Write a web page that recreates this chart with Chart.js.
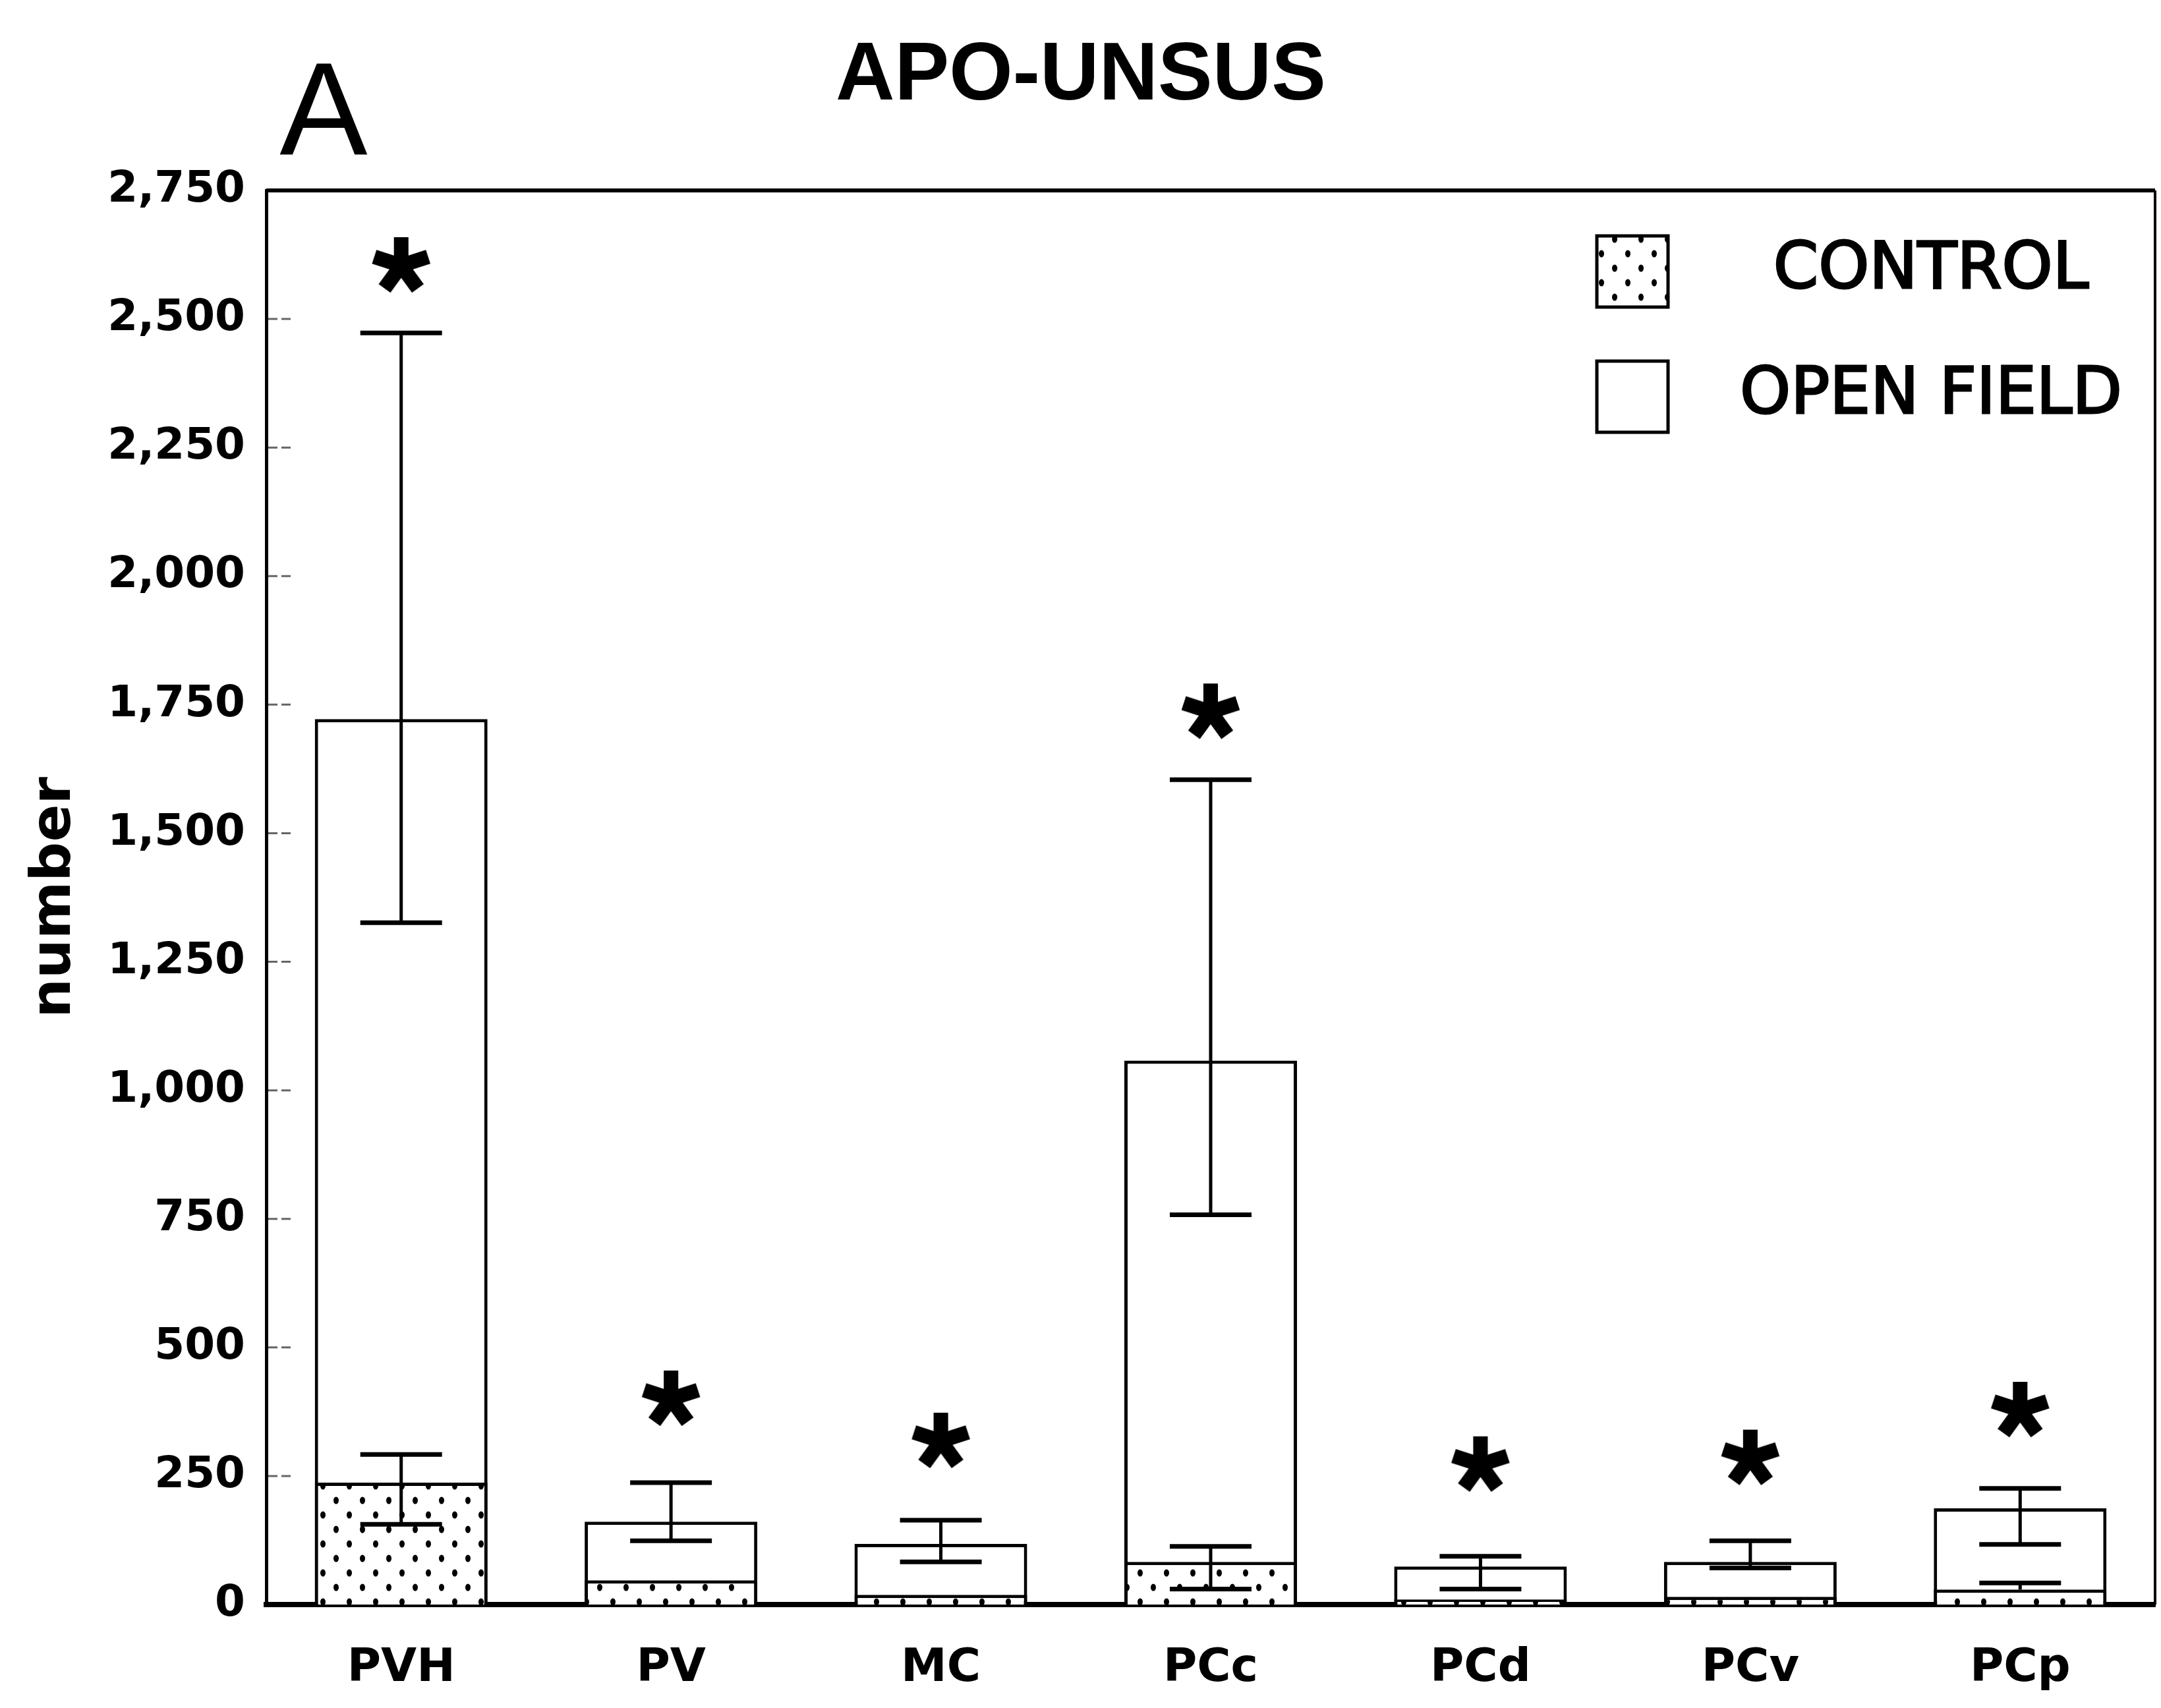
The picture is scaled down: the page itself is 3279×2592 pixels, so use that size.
<!DOCTYPE html>
<html>
<head>
<meta charset="utf-8">
<style>
  html, body { margin: 0; padding: 0; background: #fff; }
  #chart { display: block; }
</style>
<script src="https://cdn.jsdelivr.net/npm/chart.js@4.4.1/dist/chart.umd.min.js"></script>
</head>
<body>
<canvas id="chart" width="3279" height="2592"></canvas>
<script>
// Regions along the x axis
const regions = ['PVH', 'PV', 'MC', 'PCc', 'PCd', 'PCv', 'PCp'];

// Mean counts
const controlValues = [237, 47, 19, 83, 10, 15, 29];
const openFieldValues = [1722, 161, 118, 1058, 74, 83, 187];

// Error bar ends (null where no bar is visible)
const controlHigh = [292, null, null, 113, null, null, 42];
const controlLow = [156, null, null, 30, null, null, null];
const openHigh = [2473, 237, 164, 1604, 94, 124, 226];
const openLow = [1326, 124, 83, 758, 30, 71, 117];

// Height of the significance asterisks
const starLevels = [2604, 400, 318, 1736, 272, 285, 378];

// Y axis
const yMax = 2750;
const yStep = 250;

const canvas = document.getElementById('chart');
const ctx = canvas.getContext('2d');

// Dotted fill for the control bars
function makeDots() {
    const tile = document.createElement('canvas');
    tile.width = 40;
    tile.height = 44;
    const t = tile.getContext('2d');
    t.fillStyle = '#fff';
    t.fillRect(0, 0, 40, 44);
    t.fillStyle = '#000';
    [[10, 11], [30, 33]].forEach(([x, y]) => {
        t.beginPath();
        t.ellipse(x, y, 4, 5.5, 0, 0, Math.PI * 2);
        t.fill();
    });
    return ctx.createPattern(tile, 'repeat');
}

// Five armed asterisk used as point style
function makeStar(size) {
    const c = document.createElement('canvas');
    c.width = c.height = size;
    const s = c.getContext('2d');
    const r = size / 2 - 3;
    s.strokeStyle = '#000';
    s.lineWidth = size * 0.24;
    for (let k = 0; k < 5; k++) {
        const a = -Math.PI / 2 + k * 2 * Math.PI / 5;
        s.beginPath();
        s.moveTo(size / 2, size / 2);
        s.lineTo(size / 2 + r * Math.cos(a), size / 2 + r * Math.sin(a));
        s.stroke();
    }
    return c;
}

const dots = makeDots();

// Title and panel letter
const headerPlugin = {
    id: 'header',
    afterDraw(chart) {
        const c = chart.ctx;
        c.save();
        c.fillStyle = '#000';
        c.textAlign = 'center';
        c.textBaseline = 'alphabetic';
        c.font = '200px "Liberation Sans"';
        c.fillText('A', 491, 234);
        c.font = 'bold 124px "Liberation Sans"';
        c.fillText('APO-UNSUS', 1640, 151);
        c.restore();
    }
};

// Box around the plot and short inner ticks
const framePlugin = {
    id: 'frame',
    afterDraw(chart) {
        const { left, right, top } = chart.chartArea;
        const y = chart.scales.y;
        const c = chart.ctx;
        c.save();
        c.strokeStyle = '#000';
        c.lineWidth = 6;
        c.beginPath();
        c.moveTo(left, top);
        c.lineTo(right, top);
        c.stroke();
        c.lineWidth = 4;
        c.beginPath();
        c.moveTo(right, top);
        c.lineTo(right, chart.chartArea.bottom);
        c.stroke();

        c.strokeStyle = '#666';
        c.lineWidth = 3;
        c.setLineDash([14, 6]);
        y.ticks.forEach(t => {
            if (t.value <= 0 || t.value >= yMax) return;
            const py = y.getPixelForValue(t.value);
            c.beginPath();
            c.moveTo(left + 3, py);
            c.lineTo(left + 42, py);
            c.stroke();
        });
        c.restore();
    }
};

// Error bars for both groups
const errorPlugin = {
    id: 'errors',
    afterDatasetsDraw(chart) {
        const y = chart.scales.y;
        const c = chart.ctx;
        const groups = [
            { index: 0, values: controlValues, high: controlHigh, low: controlLow },
            { index: 1, values: openFieldValues, high: openHigh, low: openLow }
        ];
        c.save();
        c.strokeStyle = '#000';
        groups.forEach(g => {
            const meta = chart.getDatasetMeta(g.index);
            meta.data.forEach((bar, i) => {
                if (g.high[i] == null) return;
                const half = 62;
                const top = y.getPixelForValue(g.high[i]);
                const bottom = y.getPixelForValue(g.low[i] != null ? g.low[i] : g.values[i]);
                c.lineWidth = 5;
                c.beginPath();
                c.moveTo(bar.x, top);
                c.lineTo(bar.x, bottom);
                c.stroke();
                c.lineWidth = 7;
                c.beginPath();
                c.moveTo(bar.x - half, top);
                c.lineTo(bar.x + half, top);
                if (g.low[i] != null) {
                    c.moveTo(bar.x - half, bottom);
                    c.lineTo(bar.x + half, bottom);
                }
                c.stroke();
            });
        });
        c.restore();
    }
};

// Legend boxes inside the plot
const keyPlugin = {
    id: 'key',
    afterDraw(chart) {
        const c = chart.ctx;
        const rows = [
            { ds: chart.data.datasets[0], cy: 412 },
            { ds: chart.data.datasets[1], cy: 602 }
        ];
        c.save();
        rows.forEach(r => {
            c.fillStyle = r.ds.backgroundColor;
            c.fillRect(2423, r.cy - 54, 108, 108);
            c.strokeStyle = '#000';
            c.lineWidth = 5;
            c.strokeRect(2423, r.cy - 54, 108, 108);
            c.fillStyle = '#000';
            c.font = '98px "DejaVu Sans"';
            c.textAlign = 'center';
            c.textBaseline = 'middle';
            c.lineWidth = 3;
            c.fillText(r.ds.label, 2930, r.cy);
            c.strokeText(r.ds.label, 2930, r.cy);
        });
        c.restore();
    }
};

new Chart(ctx, {
    type: 'bar',
    data: {
        labels: regions,
        datasets: [
            {
                label: 'CONTROL',
                data: controlValues,
                backgroundColor: dots,
                borderColor: '#000',
                borderWidth: 5,
                categoryPercentage: 0.8,
                barPercentage: 0.8
            },
            {
                label: 'OPEN FIELD',
                data: openFieldValues,
                backgroundColor: '#fff',
                borderColor: '#000',
                borderWidth: 5,
                borderSkipped: false,
                categoryPercentage: 0.8,
                barPercentage: 0.8
            },
            {
                type: 'line',
                label: 'significant',
                data: starLevels,
                showLine: false,
                pointStyle: makeStar(92),
                pointRadius: 1,
                pointBorderWidth: 0
            }
        ]
    },
    options: {
        responsive: false,
        animation: false,
        devicePixelRatio: 1,
        layout: { padding: { top: 289, right: 9, left: 0, bottom: 0 } },
        plugins: {
            legend: { display: false },
            tooltip: { enabled: false }
        },
        scales: {
            x: {
                stacked: true,
                grid: { display: false, drawTicks: false },
                border: { display: true, width: 8, color: '#000' },
                ticks: {
                    color: '#000',
                    padding: 56,
                    maxRotation: 0,
                    font: { family: 'DejaVu Sans', weight: 'bold', size: 70 }
                },
                afterFit: scale => { scale.height = 157; }
            },
            y: {
                min: 0,
                max: yMax,
                grid: { display: false, drawTicks: false },
                border: { display: true, width: 5, color: '#000' },
                ticks: {
                    stepSize: yStep,
                    color: '#000',
                    padding: 32,
                    font: { family: 'DejaVu Sans', weight: 'bold', size: 66 }
                },
                title: {
                    display: true,
                    text: 'number',
                    color: '#000',
                    padding: { top: 34, bottom: 0 },
                    font: { family: 'DejaVu Sans', weight: 'bold', size: 84 }
                },
                afterFit: scale => { scale.width = 404; }
            }
        }
    },
    plugins: [headerPlugin, framePlugin, errorPlugin, keyPlugin]
});
</script>
</body>
</html>
